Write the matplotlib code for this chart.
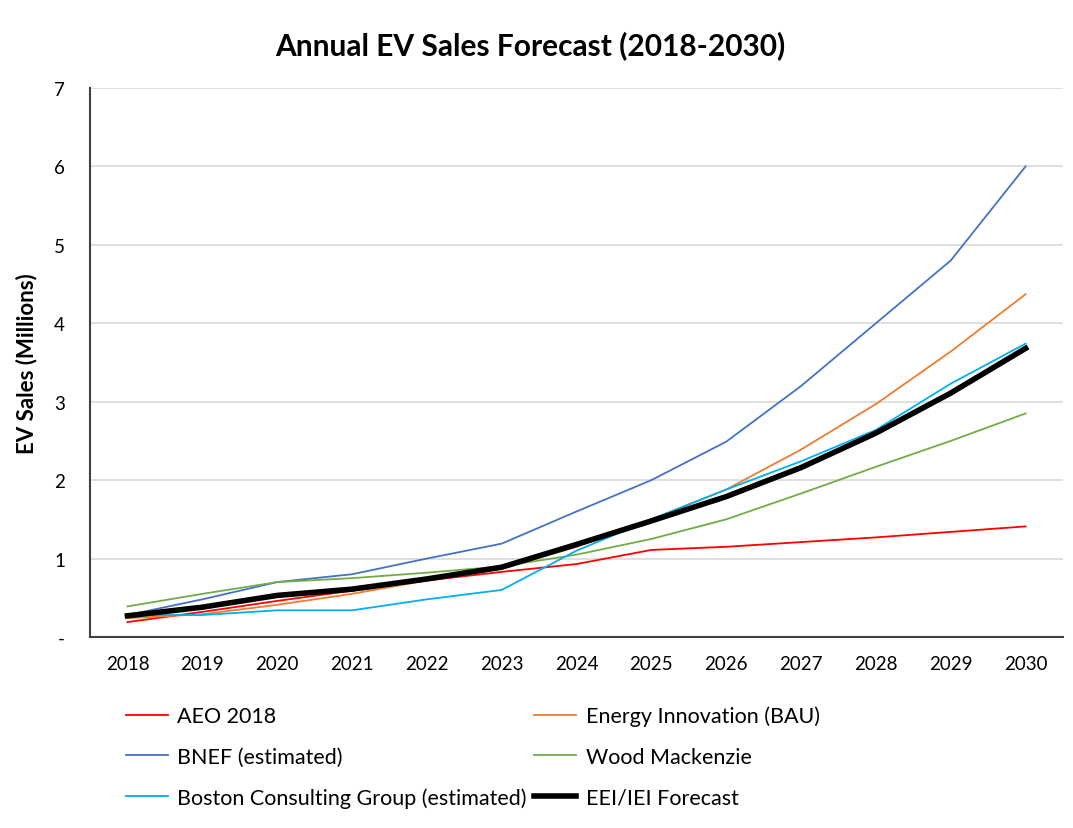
import matplotlib
matplotlib.use("Agg")
import matplotlib.pyplot as plt

plt.rcParams['font.family'] = ['Lato', 'DejaVu Sans']

years = ['2018', '2019', '2020', '2021', '2022', '2023', '2024',
         '2025', '2026', '2027', '2028', '2029', '2030']

aeo_2018 = [0.19, 0.32, 0.46, 0.59, 0.72, 0.83, 0.93, 1.11, 1.15, 1.21, 1.27, 1.34, 1.41]
energy_innovation = [0.24, 0.29, 0.41, 0.55, 0.72, 0.87, 1.15, 1.50, 1.88, 2.39, 2.97, 3.64, 4.37]
bnef = [0.28, 0.48, 0.70, 0.80, 1.00, 1.19, 1.60, 2.00, 2.49, 3.20, 4.00, 4.80, 6.00]
wood_mackenzie = [0.39, 0.55, 0.70, 0.75, 0.82, 0.90, 1.05, 1.25, 1.50, 1.83, 2.17, 2.50, 2.85]
bcg = [0.28, 0.28, 0.34, 0.34, 0.48, 0.60, 1.10, 1.50, 1.88, 2.24, 2.64, 3.23, 3.74]
eei_iei = [0.27, 0.38, 0.53, 0.61, 0.74, 0.89, 1.18, 1.48, 1.79, 2.16, 2.60, 3.11, 3.68]

series = [
    ('AEO 2018', aeo_2018, '#FF0000', 1.3),
    ('Energy Innovation (BAU)', energy_innovation, '#ED7D31', 1.3),
    ('BNEF (estimated)', bnef, '#4472C4', 1.3),
    ('Wood Mackenzie', wood_mackenzie, '#70AD47', 1.3),
    ('Boston Consulting Group (estimated)', bcg, '#00B0F0', 1.3),
    ('EEI/IEI Forecast', eei_iei, '#000000', 4.0),
]

fig = plt.figure(figsize=(10.73, 8.29), dpi=100)
ax = fig.add_axes([0.0839, 0.2304, 0.9068, 0.6623])

x = range(len(years))
lines = {}
for name, vals, color, lw in series:
    lines[name], = ax.plot(x, vals, color=color, lw=lw, label=name,
                           solid_joinstyle='round', zorder=3 if lw > 2 else 2)

ax.set_xlim(-0.5, len(years) - 0.5)
ax.set_ylim(0, 7)
ax.set_xticks(list(x))
ax.set_xticklabels(years, fontsize=13.5)
ax.set_yticks(range(8))
ax.set_yticklabels(['-'] + [str(i) for i in range(1, 8)], fontsize=13.5)
ax.tick_params(axis='both', length=0)
ax.tick_params(axis='y', pad=18)
ax.tick_params(axis='x', pad=13)
ax.grid(axis='y', color='#d9d9d9', lw=1.2)
ax.set_axisbelow(True)
for s in ['top', 'right']:
    ax.spines[s].set_visible(False)
for s in ['left', 'bottom']:
    ax.spines[s].set_color('#404040')
    ax.spines[s].set_linewidth(1.5)

ax.set_ylabel('EV Sales (Millions)', fontsize=16, fontweight='bold', labelpad=12)
fig.text(0.494, 0.945, 'Annual EV Sales Forecast (2018-2030)', fontsize=21.5,
         fontweight='bold', ha='center', va='center')

order = ['AEO 2018', 'BNEF (estimated)', 'Boston Consulting Group (estimated)',
         'Energy Innovation (BAU)', 'Wood Mackenzie', 'EEI/IEI Forecast']
fig.legend([lines[n] for n in order], order, ncol=2, frameon=False,
           fontsize=15.5, loc='upper left', bbox_to_anchor=(0.109, 0.158),
           handlelength=1.95, handletextpad=0.45, columnspacing=0.35,
           labelspacing=0.95, borderaxespad=0)

fig.savefig('out.png', dpi=100)
